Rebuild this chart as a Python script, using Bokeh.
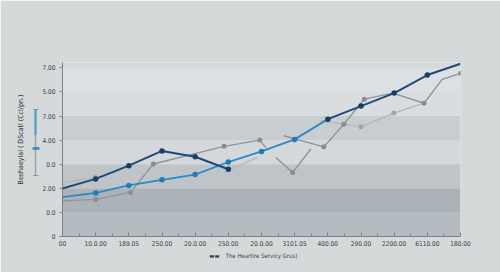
from bokeh.plotting import figure
from bokeh.models import Range1d, FixedTicker, BoxAnnotation, LinearAxis
from bokeh.embed import file_html
from bokeh.resources import INLINE

nan = float("nan")

# ---- data -------------------------------------------------------------
x_ticks = list(range(13))
x_labels = ["00", "10.0.00", "189.05", "250.00", "20.0.00", "250.00", "20.0.00",
            "3101.05", "400.00", "290.00", "2200.00", "6110.00", "180.00"]
y_ticks = [0, 1, 2, 3, 4, 5, 6, 7]
y_labels = ["0", "0.0", "2.00", "0.0", "4.00", "7.00", "5.00", "7.00"]

navy_x = [0, 1, 2, 3, 4, 5, nan, 8, 9, 10, 11, 12]
navy_y = [1.99, 2.39, 2.94, 3.55, 3.31, 2.79, nan, 4.87, 5.41, 5.95, 6.70, 7.17]
navy_marks = [1, 2, 3, 4, 5, 7, 8, 9, 10]

blue_x = [0, 1, 2, 3, 4, 5, 6, 7, 8]
blue_y = [1.63, 1.81, 2.12, 2.35, 2.57, 3.09, 3.53, 4.03, 4.87]
blue_marks = [1, 2, 3, 4, 5, 6, 7]

gray_x = [0, 1, 2.05, 2.74, 4.87, 5.95, 6.13, nan, 6.43, 6.94, 7.49, nan,
          6.67, 7.88, 8.48, 9.10, 9.96, 10.9, 11.45, 12]
gray_y = [1.48, 1.54, 1.83, 3.01, 3.74, 4.00, 3.69, nan, 3.28, 2.66, 3.63, nan,
          4.18, 3.72, 4.66, 5.70, 5.95, 5.53, 6.52, 6.77]
gray_marks = [1, 2, 3, 4, 5, 9, 13, 14, 15, 17, 19]

lgray_x = [0, 1, 1.76, nan, 4.87, 5.88, nan, 7.79, 8.48, 9.0, 9.99, 10.9]
lgray_y = [2.25, 2.45, 2.73, nan, 2.66, 3.28, nan, 4.80, 4.66, 4.55, 5.12, 5.53]
lgray_marks = [1, 9, 10]

# indicator (range bar left of the axis): low, split, high, marker
ind_low, ind_split, ind_high, ind_mark = 2.52, 4.18, 5.29, 3.64

y_title = "Beshaeylal ( DScatl (Ccl/pn.)"
legend_label = "The Heartire Servicy Grus)"
legend_swatch = "\u25ac\u25ac"
legend_pos = [4.58, 6.0]   # x positions (axis units) of swatch and label

# ---- figure ------------------------------------------------------------
BG = "#d6d9da"
FONT = "'Liberation Sans Narrow', 'DejaVu Sans Condensed', Roboto, sans-serif"
FS = "6.5px"

p = figure(width=500, height=272, output_backend="svg", toolbar_location=None,
           x_range=Range1d(0, 12), y_range=Range1d(0, 7.22),
           min_border_left=62, min_border_right=40, min_border_top=62,
           min_border_bottom=36)
p.border_fill_color = BG
p.background_fill_color = BG
p.outline_line_color = None
p.grid.visible = False

band_colors = ["#b5bcc1", "#acb3b8", "#bec4c8", "#d4d8da", "#c8cdd0", "#d9dddf", "#dde0e2"]
for i, c in enumerate(band_colors):
    p.add_layout(BoxAnnotation(bottom=y_ticks[i], top=y_ticks[i + 1], fill_color=c,
                               fill_alpha=1, line_alpha=0, level="underlay"))

p.xaxis.ticker = FixedTicker(ticks=x_ticks, minor_ticks=[t + 0.5 for t in x_ticks[:-1]])
p.xaxis.major_label_overrides = {t: l for t, l in zip(x_ticks, x_labels)}
p.yaxis.ticker = FixedTicker(ticks=y_ticks, minor_ticks=[])
p.yaxis.major_label_overrides = {t: l for t, l in zip(y_ticks, y_labels)}
for ax in (p.xaxis, p.yaxis):
    ax.axis_line_color = "#7d8286"
    ax.axis_line_width = 1
    ax.major_tick_line_color = "#7d8286"
    ax.minor_tick_line_color = "#7d8286"
    ax.major_label_text_font = FONT
    ax.major_label_text_font_size = FS
    ax.major_label_text_color = "#3a3d40"
p.xaxis.major_tick_in = 4
p.xaxis.major_tick_out = 0
p.xaxis.minor_tick_in = 3
p.xaxis.minor_tick_out = 0
p.xaxis.major_label_standoff = 4
p.yaxis.major_tick_in = 0
p.yaxis.major_tick_out = 3
p.yaxis.minor_tick_in = 0
p.yaxis.minor_tick_out = 0
p.yaxis.major_label_standoff = 4


def bare_axis(bounds, color, width):
    return LinearAxis(bounds=bounds, ticker=FixedTicker(ticks=[], minor_ticks=[]),
                      axis_line_color=color, axis_line_width=width,
                      major_tick_in=0, major_tick_out=0, minor_tick_in=0,
                      minor_tick_out=0, major_label_standoff=0,
                      major_label_text_font_size="0px")


# invisible spacer (one hidden tick gives it width), then the indicator
spacer = LinearAxis(ticker=FixedTicker(ticks=[3.0], minor_ticks=[]),
                    axis_line_alpha=0, major_tick_in=0, major_tick_out=4,
                    major_tick_line_alpha=0, minor_tick_in=0, minor_tick_out=0,
                    major_label_standoff=0, major_label_overrides={3.0: ""},
                    major_label_text_font_size="0px")
p.add_layout(spacer, "left")
p.add_layout(bare_axis((ind_split, ind_high), "#3a9ad0", 2), "left")
p.add_layout(bare_axis((ind_low, ind_split), "#9aa1a7", 1.4), "left")
pad = "\u00a0" * 10
ind = LinearAxis(bounds=(ind_low, ind_high),
                 ticker=FixedTicker(ticks=[ind_mark], minor_ticks=[ind_low, ind_high]),
                 axis_line_alpha=0,
                 major_tick_in=4, major_tick_out=3, major_tick_line_color="#2a8cc4",
                 major_tick_line_width=2.6,
                 minor_tick_in=3, minor_tick_out=2, minor_tick_line_color="#7f98ab",
                 minor_tick_line_width=1.2,
                 major_label_standoff=0, major_label_overrides={ind_mark: ""},
                 major_label_text_font_size="0px",
                 axis_label=pad + y_title, axis_label_standoff=8,
                 axis_label_text_font=FONT, axis_label_text_font_size="7px",
                 axis_label_text_font_style="normal", axis_label_text_color="#2f3235")
p.add_layout(ind, "left")

# legend row below the x axis (swatch + label)
leg_axis = LinearAxis(ticker=FixedTicker(ticks=legend_pos, minor_ticks=[]),
                      major_label_overrides={legend_pos[0]: legend_swatch,
                                             legend_pos[1]: legend_label},
                      axis_line_alpha=0, major_tick_in=0, major_tick_out=0,
                      minor_tick_in=0, minor_tick_out=0, major_label_standoff=3,
                      major_label_text_font=FONT, major_label_text_font_size="6px",
                      major_label_text_color="#33414f")
p.add_layout(leg_axis, "below")

NAVY, NAVY_M = "#1f4b78", "#173f68"
BLUE, BLUE_M = "#2b8bc3", "#1f7db5"
GRAY, GRAY_M = "#8e959b", "#868d93"
LGRAY = "#b3b8bc"

p.line(lgray_x, lgray_y, line_color=LGRAY, line_width=1.3)
p.scatter([lgray_x[i] for i in lgray_marks], [lgray_y[i] for i in lgray_marks],
          size=5, fill_color="#a0a6ab", line_color=None)
p.line(gray_x, gray_y, line_color=GRAY, line_width=1.4)
p.scatter([gray_x[i] for i in gray_marks], [gray_y[i] for i in gray_marks],
          size=5, fill_color=GRAY_M, line_color=None)
p.line(blue_x, blue_y, line_color=BLUE, line_width=1.8)
p.scatter([blue_x[i] for i in blue_marks], [blue_y[i] for i in blue_marks],
          size=5.5, fill_color=BLUE_M, line_color=None)
p.line(navy_x, navy_y, line_color=NAVY, line_width=2)
p.scatter([navy_x[i] for i in navy_marks], [navy_y[i] for i in navy_marks],
          size=5.5, fill_color=NAVY_M, line_color=None)

open("out.html", "w").write(file_html(p, INLINE))
